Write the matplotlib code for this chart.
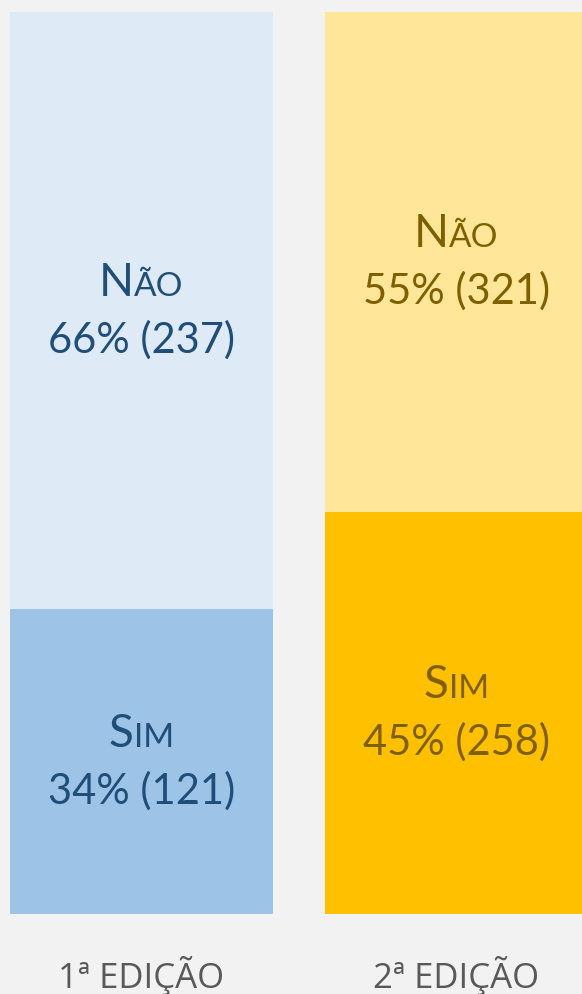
import numpy as np
import matplotlib
matplotlib.use("Agg")
import matplotlib.pyplot as plt
from matplotlib.offsetbox import TextArea, HPacker, VPacker, AnnotationBbox

# dados
edicoes = ["1ª EDIÇÃO", "2ª EDIÇÃO"]
sim = [121, 258]
nao = [237, 321]
pct_sim = [34, 45]
pct_nao = [66, 55]

cores_sim = ["#9DC3E6", "#FFC000"]
cores_nao = ["#DEEBF7", "#FFE699"]
cores_txt = ["#1F4E79", "#7F6000"]

fundo = "#F2F2F2"

total = np.array(sim) + np.array(nao)
frac_sim = np.array(sim) / total
frac_nao = np.array(nao) / total

fig = plt.figure(figsize=(5.82, 9.94), dpi=100, facecolor=fundo)
ax = fig.add_axes([0, 80 / 994, 1, 902 / 994])
ax.set_facecolor(fundo)

x = np.arange(len(edicoes))
largura = 263 / 315
ax.bar(x, frac_sim, width=largura, color=cores_sim, linewidth=0)
ax.bar(x, frac_nao, width=largura, bottom=frac_sim, color=cores_nao, linewidth=0)

ax.set_xlim(-141.5 / 315, (582 - 141.5) / 315)
ax.set_ylim(0, 1)
for s in ax.spines.values():
    s.set_visible(False)
ax.set_yticks([])
ax.set_xticks(x)
ax.set_xticklabels(edicoes, fontsize=25, color="#595959", family="Open Sans")
ax.tick_params(axis="x", length=0, pad=30)


def rotulo(xc, yc, palavra, pct, n, cor):
    # versaletes: primeira letra grande, resto menor
    l1 = HPacker(children=[
        TextArea(palavra[0], textprops=dict(size=33, color=cor, family="Lato")),
        TextArea(palavra[1:].upper(), textprops=dict(size=24, color=cor, family="Lato")),
    ], align="baseline", pad=0, sep=0)
    l2 = TextArea(f"{pct}% ({n})", textprops=dict(size=30, color=cor, family="Lato"))
    caixa = VPacker(children=[l1, l2], align="center", pad=0, sep=12)
    ab = AnnotationBbox(caixa, (xc, yc), frameon=False, box_alignment=(0.5, 0.5), pad=0)
    ax.add_artist(ab)


for i in range(len(edicoes)):
    rotulo(x[i], frac_sim[i] / 2, "Sim", pct_sim[i], sim[i], cores_txt[i])
    rotulo(x[i], frac_sim[i] + frac_nao[i] / 2, "Não", pct_nao[i], nao[i], cores_txt[i])

fig.savefig("out.png", dpi=100, facecolor=fundo)
